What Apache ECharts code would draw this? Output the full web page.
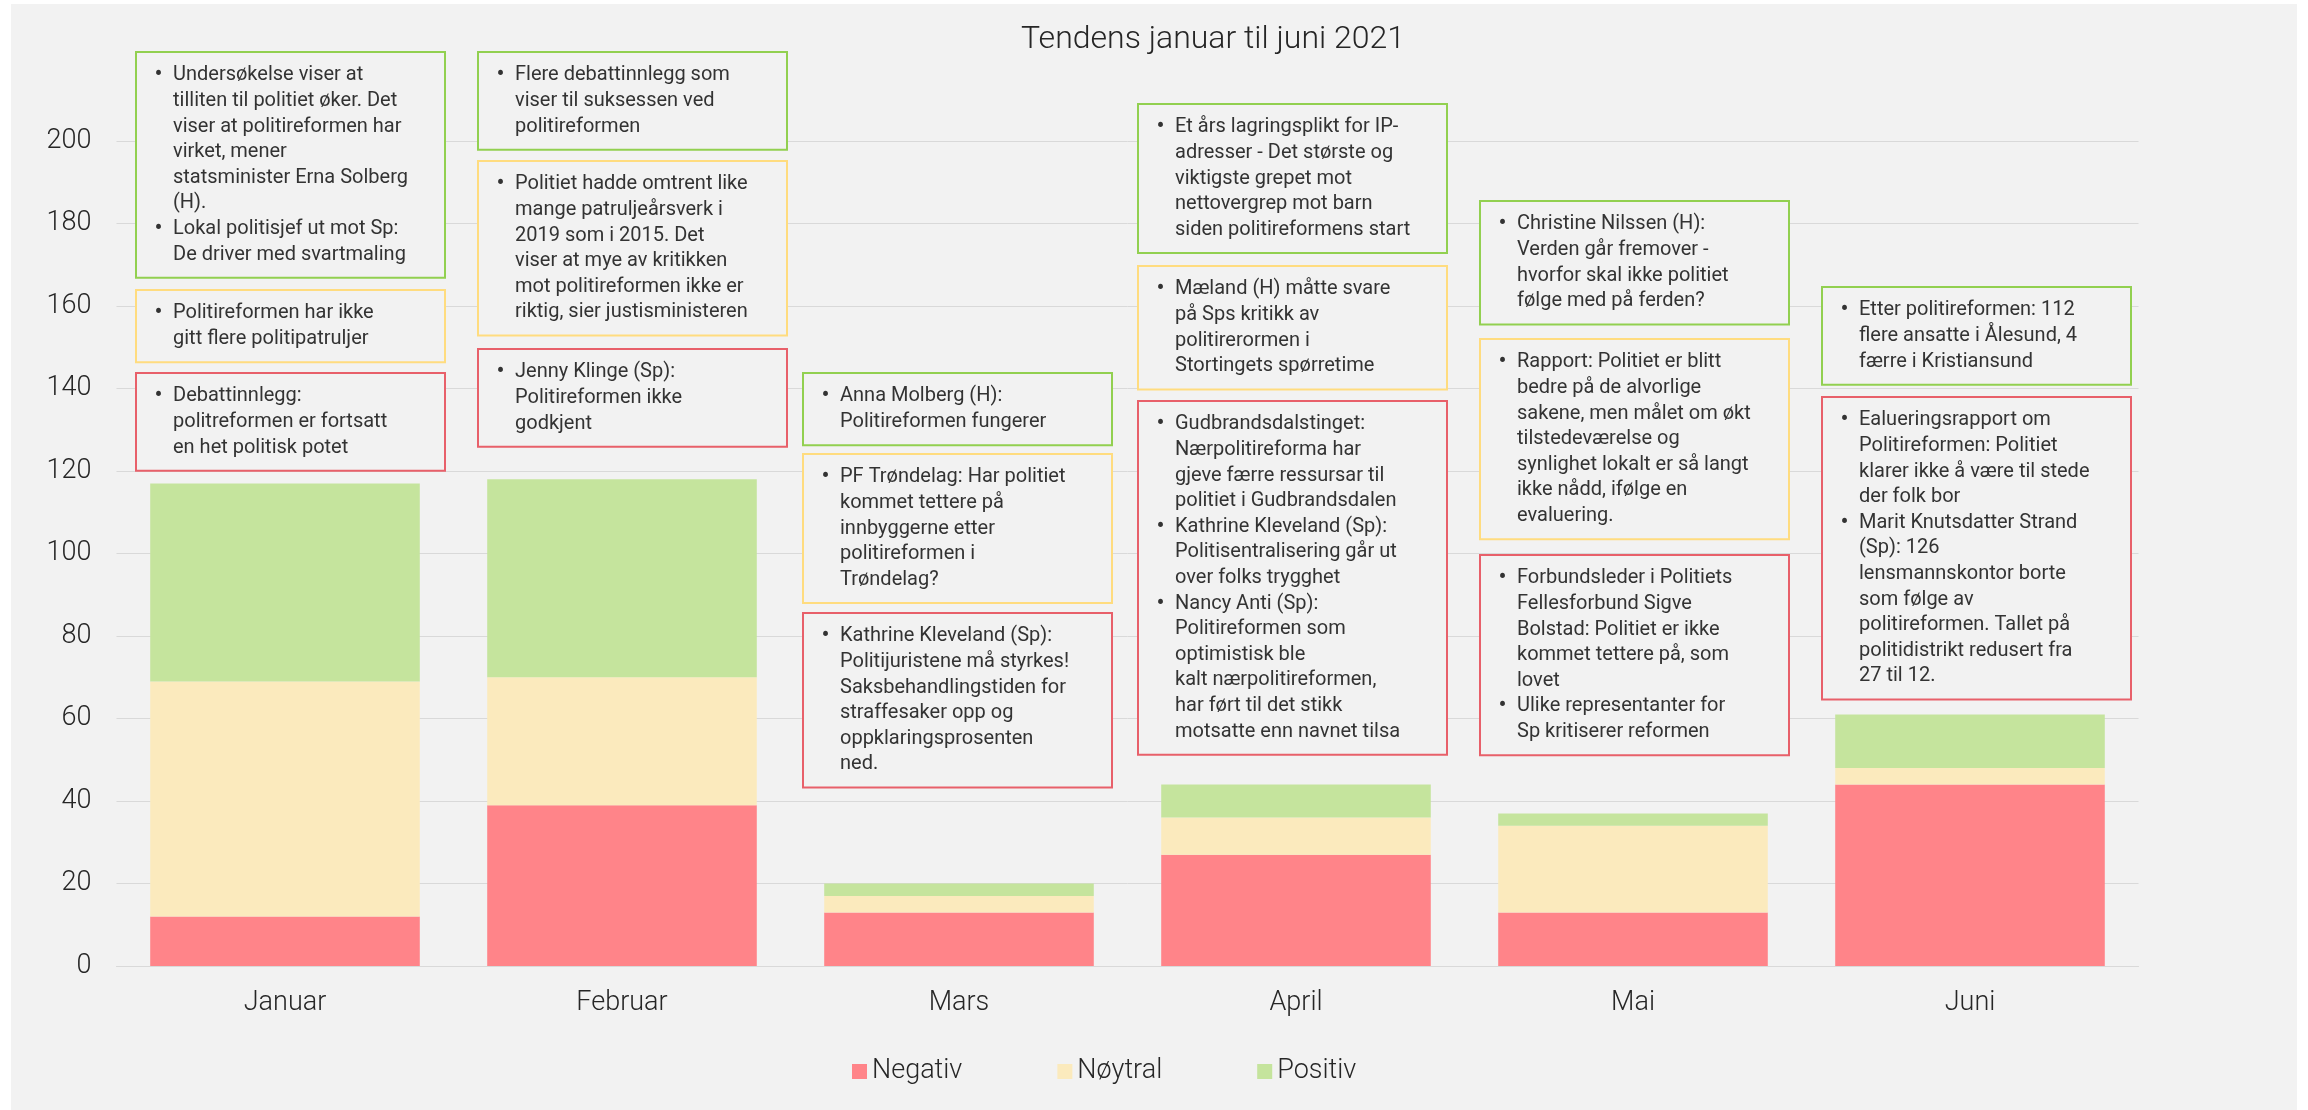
<!DOCTYPE html>
<html>
<head>
<meta charset="utf-8">
<title>Tendens januar til juni 2021</title>
<script src="https://cdn.jsdelivr.net/npm/echarts@6/dist/echarts.min.js"></script>
<style>
  html, body { margin: 0; padding: 0; background: #fff; }
  #chart { width: 2308px; height: 1110px; }
</style>
</head>
<body>
<div id="chart"></div>
<script>
// data
const months = ['Januar', 'Februar', 'Mars', 'April', 'Mai', 'Juni']
const negativ = [12, 39, 13, 27, 13, 44]
const noytral = [57, 31, 4, 9, 21, 4]
const positiv = [48, 48, 3, 8, 3, 13]
const yTicks = [0, 20, 40, 60, 80, 100, 120, 140, 160, 180, 200]

// kommentarbokser: måned, tone, topp (px), tekstlinjer ("• " = nytt punkt)
const notes = [
  ['Januar', 'pos', 52, ['• Undersøkelse viser at', 'tilliten til politiet øker. Det', 'viser at politireformen har', 'virket, mener', 'statsminister Erna Solberg', '(H).', '• Lokal politisjef ut mot Sp:', 'De driver med svartmaling']],
  ['Januar', 'noy', 290, ['• Politireformen har ikke', 'gitt flere politipatruljer']],
  ['Januar', 'neg', 373, ['• Debattinnlegg:', 'politreformen er fortsatt', 'en het politisk potet']],
  ['Februar', 'pos', 52, ['• Flere debattinnlegg som', 'viser til suksessen ved', 'politireformen']],
  ['Februar', 'noy', 161, ['• Politiet hadde omtrent like', 'mange patruljeårsverk i', '2019 som i 2015. Det', 'viser at mye av kritikken', 'mot politireformen ikke er', 'riktig, sier justisministeren']],
  ['Februar', 'neg', 349, ['• Jenny Klinge (Sp):', 'Politireformen ikke', 'godkjent']],
  ['Mars', 'pos', 373, ['• Anna Molberg (H):', 'Politireformen fungerer']],
  ['Mars', 'noy', 454, ['• PF Trøndelag: Har politiet', 'kommet tettere på', 'innbyggerne etter', 'politireformen i', 'Trøndelag?']],
  ['Mars', 'neg', 613, ['• Kathrine Kleveland (Sp):', 'Politijuristene må styrkes!', 'Saksbehandlingstiden for', 'straffesaker opp og', 'oppklaringsprosenten', 'ned.']],
  ['April', 'pos', 104, ['• Et års lagringsplikt for IP-', 'adresser - Det største og', 'viktigste grepet mot', 'nettovergrep mot barn', 'siden politireformens start']],
  ['April', 'noy', 266, ['• Mæland (H) måtte svare', 'på Sps kritikk av', 'politirerormen i', 'Stortingets spørretime']],
  ['April', 'neg', 401, ['• Gudbrandsdalstinget:', 'Nærpolitireforma har', 'gjeve færre ressursar til', 'politiet i Gudbrandsdalen', '• Kathrine Kleveland (Sp):', 'Politisentralisering går ut', 'over folks trygghet', '• Nancy Anti (Sp):', 'Politireformen som', 'optimistisk ble', 'kalt nærpolitireformen,', 'har ført til det stikk', 'motsatte enn navnet tilsa']],
  ['Mai', 'pos', 201, ['• Christine Nilssen (H):', 'Verden går fremover -', 'hvorfor skal ikke politiet', 'følge med på ferden?']],
  ['Mai', 'noy', 339, ['• Rapport: Politiet er blitt', 'bedre på de alvorlige', 'sakene, men målet om økt', 'tilstedeværelse og', 'synlighet lokalt er så langt', 'ikke nådd, ifølge en', 'evaluering.']],
  ['Mai', 'neg', 555, ['• Forbundsleder i Politiets', 'Fellesforbund Sigve', 'Bolstad: Politiet er ikke', 'kommet tettere på, som', 'lovet', '• Ulike representanter for', 'Sp kritiserer reformen']],
  ['Juni', 'pos', 287, ['• Etter politireformen: 112', 'flere ansatte i Ålesund, 4', 'færre i Kristiansund']],
  ['Juni', 'neg', 397, ['• Ealueringsrapport om', 'Politireformen: Politiet', 'klarer ikke å være til stede', 'der folk bor', '• Marit Knutsdatter Strand', '(Sp): 126', 'lensmannskontor borte', 'som følge av', 'politireformen. Tallet på', 'politidistrikt redusert fra', '27 til 12.']]
]
// litt forskyvning av boksene i forhold til midten av kategorien
const noteShift = { Januar: 5, Februar: 10, Mars: -2, April: -4, Mai: 1, Juni: 6 }

const barColors = { neg: '#ff8489', noy: '#fbeabd', pos: '#c5e49d' }
const borderColors = { neg: '#e8606a', noy: '#ffdc7f', pos: '#92d050' }
const textColor = '#262626'
const font = 'Roboto, "Open Sans", sans-serif'

const chart = echarts.init(document.getElementById('chart'))

const option = {
  backgroundColor: '#fff',
  animation: false,
  title: {
    text: 'Tendens januar til juni 2021',
    left: 1213,
    top: 24,
    textAlign: 'center',
    padding: 0,
    textStyle: { fontFamily: font, fontSize: 32, fontWeight: 300, color: textColor }
  },
  legend: {
    data: ['Negativ', 'Nøytral', 'Positiv'],
    left: 852,
    top: 1058,
    padding: 0,
    itemWidth: 15,
    itemHeight: 15,
    itemGap: 95,
    icon: 'rect',
    textStyle: { fontFamily: font, fontSize: 27, fontWeight: 300, color: textColor }
  },
  grid: { left: 116.5, right: 169.5, top: 141, bottom: 144, containLabel: false },
  xAxis: {
    type: 'category',
    data: months,
    axisLine: { show: true, lineStyle: { color: '#d9d9d9', width: 1 } },
    axisTick: { show: false },
    axisLabel: { margin: 24, fontFamily: font, fontSize: 27, fontWeight: 300, color: textColor }
  },
  yAxis: {
    type: 'value',
    min: yTicks[0],
    max: yTicks[yTicks.length - 1],
    interval: yTicks[1] - yTicks[0],
    axisLine: { show: false },
    axisTick: { show: false },
    splitLine: { lineStyle: { color: '#d9d9d9', width: 1 } },
    axisLabel: { margin: 25, fontFamily: font, fontSize: 27, fontWeight: 300, color: textColor }
  },
  series: [
    { name: 'Negativ', type: 'bar', stack: 'tot', data: negativ, barCategoryGap: '20%', itemStyle: { color: barColors.neg } },
    { name: 'Nøytral', type: 'bar', stack: 'tot', data: noytral, itemStyle: { color: barColors.noy } },
    { name: 'Positiv', type: 'bar', stack: 'tot', data: positiv, itemStyle: { color: barColors.pos } }
  ]
}

chart.setOption(option)

// grå bakgrunn + kommentarbokser
const lineH = 25.6
const boxW = 309
const drawNotes = () => {
  const els = [{
    type: 'rect', silent: true, z: -100,
    shape: { x: 11, y: 4, width: 2286, height: 1106 },
    style: { fill: '#f2f2f2' }
  }]
  notes.forEach(([month, tone, top, lines]) => {
    const cx = chart.convertToPixel({ xAxisIndex: 0 }, month) + noteShift[month]
    const left = Math.round(cx - boxW / 2)
    const h = 21 + lines.length * lineH
    const bullets = lines.map(l => l.startsWith('• ') ? '•' : '').join('\n')
    const body = lines.map(l => l.replace(/^• /, '')).join('\n')
    els.push({
      type: 'rect', z: 10, silent: true,
      shape: { x: left, y: top, width: boxW, height: h },
      style: { fill: '#f2f2f2', stroke: borderColors[tone], lineWidth: 2 }
    })
    els.push({
      type: 'text', z: 11, silent: true,
      x: left + 18.5, y: top + 10.5,
      style: { text: bullets, font: '24px ' + font, fill: '#333', lineHeight: lineH, verticalAlign: 'top', align: 'left' }
    })
    els.push({
      type: 'text', z: 11, silent: true,
      x: left + 37, y: top + 10.5,
      style: { text: body, font: '20px ' + font, fill: '#333', lineHeight: lineH, verticalAlign: 'top', align: 'left' }
    })
  })
  chart.setOption({ graphic: els })
}
drawNotes()

window.addEventListener('resize', () => {
  chart.resize()
  drawNotes()
})
</script>
</body>
</html>
